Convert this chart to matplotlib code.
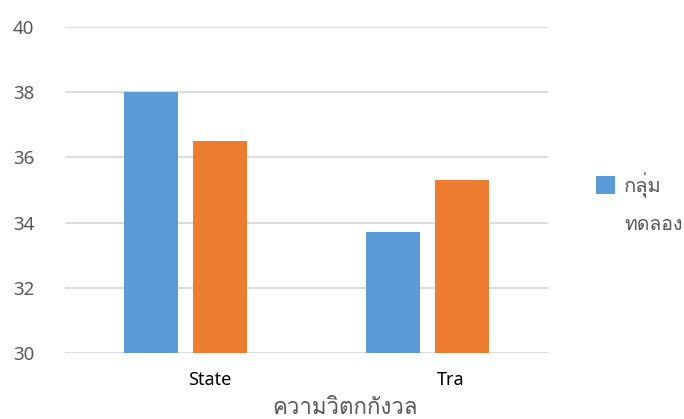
import matplotlib
matplotlib.use("Agg")
import matplotlib.pyplot as plt
from matplotlib import font_manager
from matplotlib.ft2font import FT2Font
from matplotlib.transforms import ScaledTranslation
import numpy as np

# datos
categorias = ["State", "Tra"]
grupo_experimental = [38.0, 33.7]
grupo_control = [36.5, 35.3]
nombre_experimental = "กลุ่มทดลอง"
nombre_control = "กลุ่มควบคุม"
titulo_x = "ความวิตกกังวล"
ticks_y = [30, 32, 34, 36, 38, 40]


def fuente_tailandesa():
    # buscar una fuente instalada que tenga glifos tailandeses
    for f in font_manager.fontManager.ttflist:
        try:
            if 0x0E01 in FT2Font(f.fname).get_charmap():
                return f.name
        except Exception:
            pass
    return "DejaVu Sans"


thai = fuente_tailandesa()
plt.rcParams['font.family'] = ['Noto Sans', 'DejaVu Sans', thai]

fig = plt.figure(figsize=(6.84, 4.19), dpi=100)
ax = fig.add_axes([65 / 684, 1 - 353 / 419, 483 / 684, 326 / 419])

x = np.arange(len(categorias))
ancho = 0.2236
desplaz = 0.1429
ax.bar(x - desplaz, grupo_experimental, ancho, color='#5B9BD5', label=nombre_experimental, zorder=3)
ax.bar(x + desplaz, grupo_control, ancho, color='#ED7D31', zorder=3)

ax.set_xlim(-0.5, 1.5)
ax.set_ylim(30, 40)
ax.set_yticks(ticks_y)
ax.yaxis.grid(True, color='#D9D9D9', linewidth=1.3, zorder=0)
for s in ax.spines.values():
    s.set_visible(False)
ax.tick_params(axis='y', length=0, pad=22, labelsize=13.5, labelcolor='#595959')
ax.tick_params(axis='x', length=0, pad=13, labelsize=13, labelcolor='#000000')
ax.set_xticks(x)
ax.set_xticklabels(categorias)
for lab in ax.get_xticklabels():
    lab.set_transform(lab.get_transform() + ScaledTranslation(17 / 72, 0, fig.dpi_scale_trans))

fig.text(345 / 684, 1 - 408 / 419, titulo_x, ha='center', va='center',
         fontsize=16, color='#595959', family=[thai, 'DejaVu Sans'])

# leyenda (solo la primera serie es visible en el original)
corte = 5
fig.legend(handles=[ax.patches[0]], labels=[nombre_experimental[:corte]],
           loc='center left', bbox_to_anchor=(586 / 684, 1 - 185 / 419),
           frameon=False, labelcolor='#595959', handlelength=0.95,
           handleheight=0.95, handletextpad=0.45, borderpad=0,
           prop={'family': [thai, 'DejaVu Sans'], 'size': 14.5})
fig.text(624 / 684, 1 - 225 / 419, nombre_experimental[corte:], ha='left', va='center',
         fontsize=14, color='#595959', family=[thai, 'DejaVu Sans'])

fig.savefig("out.png", dpi=100)
